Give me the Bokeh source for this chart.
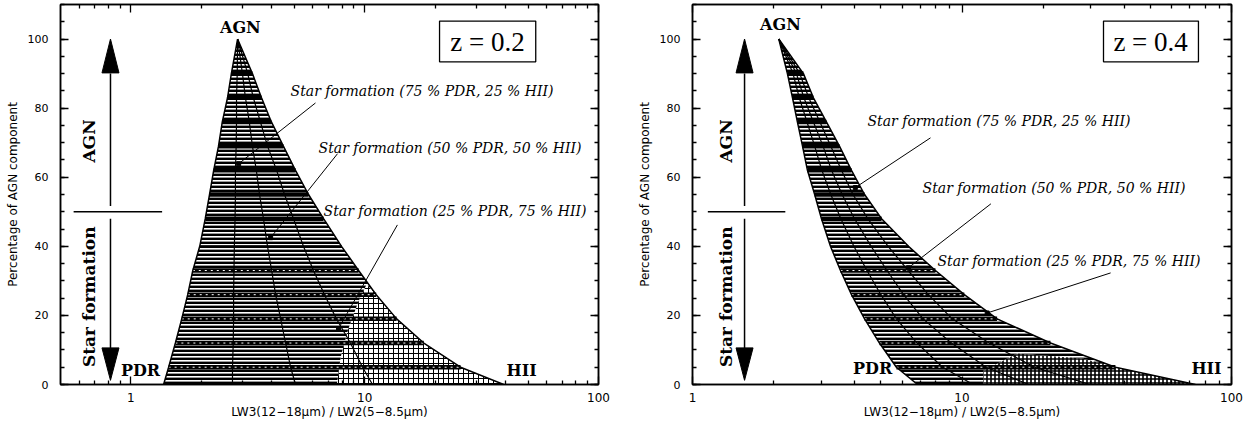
import numpy as np
from bokeh.plotting import figure
from bokeh.layouts import row
from bokeh.models import FixedTicker, LogAxis, LinearAxis, Range1d, PrintfTickFormatter
from bokeh.embed import file_html
from bokeh.resources import INLINE
from bokeh.core.properties import value

# ---------------- data ----------------
agn_levels = [100, 90, 83, 76, 69, 62, 55, 48, 40, 33, 26, 19, 12, 5, 0]

# z = 0.2 : LW3/LW2 ratio of each mixing track at the AGN percentages above
z02_pdr = [2.86, 2.69, 2.59, 2.46, 2.37, 2.26, 2.17, 2.08, 1.97, 1.84, 1.75, 1.65, 1.55, 1.45, 1.38]
z02_p75 = [2.86, 2.85, 2.83, 2.83, 2.82, 2.80, 2.80, 2.79, 2.77, 2.76, 2.75, 2.75, 2.74, 2.72, 2.72]
z02_p50 = [2.86, 3.00, 3.09, 3.21, 3.31, 3.44, 3.55, 3.69, 3.84, 4.00, 4.16, 4.37, 4.59, 4.82, 5.06]
z02_p25 = [2.86, 3.16, 3.34, 3.58, 3.84, 4.20, 4.54, 4.96, 5.47, 6.04, 6.73, 7.57, 8.69, 9.79, 10.8]
z02_hii = [2.86, 3.31, 3.62, 3.99, 4.49, 5.06, 5.75, 6.67, 7.96, 9.42, 11.2, 13.7, 17.9, 25.7, 39.3]

# z = 0.4
z04_pdr = [2.09, 2.25, 2.35, 2.45, 2.56, 2.67, 2.84, 3.01, 3.25, 3.54, 3.89, 4.35, 4.94, 5.71, 6.84]
z04_p75 = [2.09, 2.36, 2.49, 2.66, 2.84, 3.02, 3.26, 3.55, 3.97, 4.44, 5.00, 5.71, 6.81, 8.47, 11.0]
z04_p50 = [2.09, 2.43, 2.59, 2.81, 3.05, 3.28, 3.59, 3.99, 4.60, 5.27, 6.07, 7.17, 9.13, 12.3, 17.7]
z04_p25 = [2.09, 2.50, 2.70, 2.97, 3.26, 3.57, 3.94, 4.47, 5.32, 6.31, 7.50, 9.20, 12.6, 18.6, 29.8]
z04_hii = [2.09, 2.58, 2.81, 3.14, 3.51, 3.89, 4.35, 5.03, 6.33, 7.97, 10.2, 13.5, 21.3, 37.1, 73.5]

# lighter (dotted) part of the grid, lower right
z02_light_x = [10.2, 11.2, 13.7, 17.9, 25.7, 39.3, 7.6, 7.9, 8.5, 9.4]
z02_light_y = [29, 26, 19, 12, 5, 0, 0, 8, 16, 24]
z04_light_x = [16.0, 28.0, 37.1, 73.5, 12.0, 12.0]
z04_light_y = [9, 7.5, 5, 0, 0, 4]

x_major_ticks = [1, 10, 100]
y_major_ticks = [0, 20, 40, 60, 80, 100]
mix_labels = ["Star formation (75 % PDR, 25 % HII)",
              "Star formation (50 % PDR, 50 % HII)",
              "Star formation (25 % PDR, 75 % HII)"]
redshift_labels = ["z = 0.2", "z = 0.4"]
x_title = "LW3(12\u221218\u03bcm) / LW2(5\u22128.5\u03bcm)"
y_title = "Percentage of AGN component"


def style_axis(ax, show_labels):
    ax.major_tick_in = 8
    ax.major_tick_out = 0
    ax.minor_tick_in = 4
    ax.minor_tick_out = 0
    ax.major_tick_line_color = "black"
    ax.minor_tick_line_color = "black"
    ax.major_tick_line_width = 1.3
    ax.minor_tick_line_width = 1.3
    ax.axis_line_color = "black"
    ax.axis_line_width = 1.5
    ax.major_label_text_color = "black"
    ax.axis_label_text_color = "black"
    if not show_labels:
        ax.major_label_text_font_size = "1px"
        ax.major_label_text_color = None
        ax.major_label_standoff = 0


def panel(xmin, width, right_border, cols, light, light_style, cfg):
    pdr, p75, p50, p25, hii = cols
    p = figure(width=width, height=426, x_axis_type="log",
               x_range=Range1d(xmin, 100), y_range=Range1d(0, 110),
               output_backend="svg", toolbar_location=None,
               min_border_left=60, min_border_right=right_border,
               min_border_top=4, min_border_bottom=42)
    p.xgrid.visible = False
    p.ygrid.visible = False
    p.outline_line_color = "black"
    p.outline_line_width = 1.5
    p.background_fill_color = "white"

    minors = [m * d for d in (0.1, 1, 10) for m in range(2, 10) if xmin < m * d < 100]
    xt = FixedTicker(ticks=x_major_ticks, minor_ticks=minors)
    yt = FixedTicker(ticks=y_major_ticks, minor_ticks=list(range(0, 111, 5)))

    xa = p.xaxis[0]
    xa.ticker = xt
    xa.formatter = PrintfTickFormatter(format="%d")
    style_axis(xa, True)
    xa.major_label_standoff = 8
    xa.major_label_text_font = "DejaVu Sans"
    xa.major_label_text_font_size = "12px"
    xa.axis_label = x_title
    xa.axis_label_text_font = "DejaVu Sans"
    xa.axis_label_text_font_size = "12px"
    xa.axis_label_text_font_style = "normal"
    xa.axis_label_standoff = 0

    ya = p.yaxis[0]
    ya.ticker = yt
    style_axis(ya, True)
    ya.major_label_standoff = 12
    ya.major_label_text_font = "DejaVu Sans"
    ya.major_label_text_font_size = "11px"
    ya.axis_label = y_title
    ya.axis_label_text_font = "DejaVu Sans"
    ya.axis_label_text_font_size = "12px"
    ya.axis_label_text_font_style = "normal"
    ya.axis_label_standoff = 5

    top = LogAxis(ticker=xt)
    style_axis(top, False)
    p.add_layout(top, "above")
    rgt = LinearAxis(ticker=yt)
    style_axis(rgt, False)
    p.add_layout(rgt, "right")

    # hatched mixing grid
    px = list(pdr) + list(hii)[::-1]
    py = list(agn_levels) + list(agn_levels)[::-1]
    p.patch(px, py, fill_color="white", line_color=None,
            hatch_pattern="horizontal_line", hatch_color="black",
            hatch_scale=4, hatch_weight=2.8)
    lx, ly = light
    p.patch(lx, ly, fill_color="white", line_color=None,
            hatch_pattern="cross", hatch_color="black",
            hatch_scale=light_style[0], hatch_weight=light_style[1])

    # thick rows of the grid
    inner = [i for i in range(1, len(agn_levels) - 1) if agn_levels[i] != 40]
    p.segment(x0=[pdr[i] for i in inner], y0=[agn_levels[i] for i in inner],
              x1=[hii[i] for i in inner], y1=[agn_levels[i] for i in inner],
              line_color="black", line_width=4.5)
    thin = [i for i in range(len(agn_levels)) if agn_levels[i] == 40]
    p.segment(x0=[pdr[i] for i in thin], y0=[agn_levels[i] for i in thin],
              x1=[hii[i] for i in thin], y1=[agn_levels[i] for i in thin],
              line_color="black", line_width=2)
    low = [i for i in inner if agn_levels[i] <= 33]
    p.segment(x0=[pdr[i] for i in low], y0=[agn_levels[i] for i in low],
              x1=[hii[i] for i in low], y1=[agn_levels[i] for i in low],
              line_color="white", line_width=1, line_dash="2 4")

    # mixing tracks
    for c in (p75, p50, p25):
        p.line(c, agn_levels, line_color="black", line_width=1.2)
    for c in (pdr, hii):
        p.line(c, agn_levels, line_color="black", line_width=1.5)

    # leader lines and labels
    lead = cfg["leaders"]
    p.segment(x0=[a[0] for a in lead], y0=[a[1] for a in lead],
              x1=[a[2] for a in lead], y1=[a[3] for a in lead],
              line_color="black", line_width=1)
    p.scatter([a[2] for a in lead], [a[3] for a in lead], marker="square",
              size=4, color="black")
    tx = cfg["texts"]
    p.text([t[0] for t in tx], [t[1] for t in tx], text=mix_labels,
           text_align="left", text_baseline="middle",
           text_font=value("DejaVu Serif"), text_font_style="italic",
           text_font_size="14px", text_color="black")

    # end-member labels
    em = cfg["ends"]
    p.text([e[0] for e in em], [e[1] for e in em], text=["AGN", "PDR", "HII"],
           text_align="center", text_baseline="middle",
           text_font=value("DejaVu Serif"), text_font_style="bold",
           text_font_size="16px", text_color="black")

    # arrows on the left
    ax_ = cfg["arrow_x"]
    hw = 10 ** (8.5 / cfg["ppd"])
    p.line([ax_, ax_], [51.7, 90], line_color="black", line_width=1.5)
    p.line([ax_, ax_], [48, 10.5], line_color="black", line_width=1.5)
    p.patch([ax_ / hw, ax_, ax_ * hw], [90.2, 100, 90.2], color="black")
    p.patch([ax_ / hw, ax_, ax_ * hw], [10.6, 1.2, 10.6], color="black")
    p.line(cfg["hline"], [50, 50], line_color="black", line_width=1.5)
    rx = cfg["rot"]
    p.text([rx, rx], [70.5, 25.4], text=["AGN", "Star formation"],
           angle=np.pi / 2, text_align="center", text_baseline="middle",
           text_font=value("DejaVu Serif"), text_font_style="bold",
           text_font_size="17px", text_color="black")

    # redshift box
    bx = cfg["box"]
    p.quad(left=[bx[0]], right=[bx[1]], bottom=[93.4], top=[105.2],
           fill_color="white", line_color="black", line_width=1.3)
    p.text([bx[2]], [99.1], text=[cfg["z"]], text_align="center",
           text_baseline="middle", text_font=value("Liberation Serif"),
           text_font_size="27px", text_color="black")
    return p


cfg02 = dict(
    leaders=[(6.16, 81.5, 2.89, 63.9), (7.65, 66.8, 3.96, 42.5), (13.8, 46.2, 7.73, 16.2)],
    texts=[(4.82, 85.0), (6.35, 68.5), (6.67, 50.3)],
    ends=[(2.94, 103.2), (1.10, 4.0), (46.9, 4.0)],
    arrow_x=0.818, ppd=233.8, hline=[0.569, 1.36], rot=0.659,
    box=(20.9, 53.9, 33.5), z=redshift_labels[0])
cfg04 = dict(
    leaders=[(7.64, 71.4, 4.02, 57.0), (12.8, 52.3, 6.33, 33.8), (35.6, 32.3, 12.4, 20.7)],
    texts=[(4.46, 76.4), (7.14, 57.0), (8.11, 35.8)],
    ends=[(2.12, 104.2), (4.66, 4.5), (80.8, 4.5)],
    arrow_x=1.56, ppd=269.5, hline=[1.14, 2.21], rot=1.33,
    box=(33.5, 75.4, 50.1), z=redshift_labels[1])

p1 = panel(0.5, 632, 34, (z02_pdr, z02_p75, z02_p50, z02_p25, z02_hii),
           (z02_light_x, z02_light_y), (5, 1), cfg02)
p2 = panel(1.0, 616, 17, (z04_pdr, z04_p75, z04_p50, z04_p25, z04_hii),
           (z04_light_x, z04_light_y), (4, 1.6), cfg04)

layout = row(p1, p2)
open("out.html", "w").write(file_html(layout, INLINE))
